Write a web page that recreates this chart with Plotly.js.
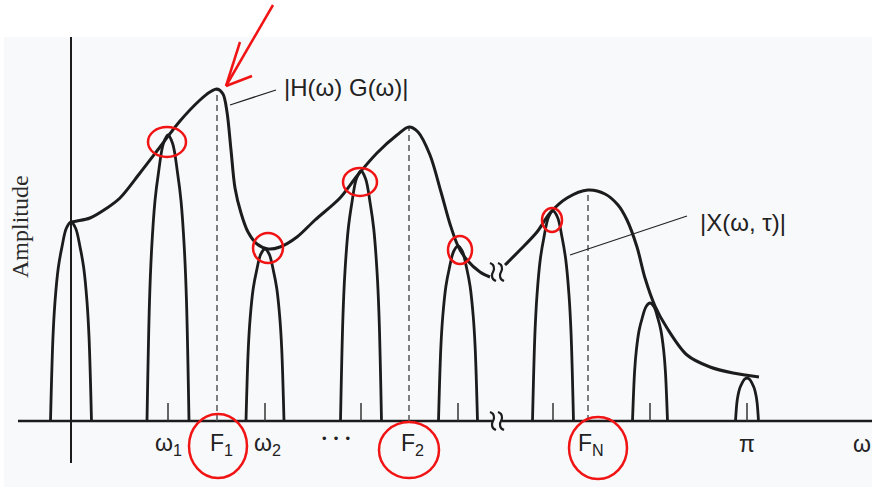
<!DOCTYPE html>
<html><head><meta charset="utf-8">
<script src="https://cdn.plot.ly/plotly-3.0.1.min.js"></script>
<style>html,body{margin:0;padding:0;background:#fff}#chart{width:872px;height:487px}</style>
</head><body><div id="chart"></div>
<script>
// ---- data (x: frequency position, y: amplitude) ----
const envelope1X = [0, 6, 19, 36, 49, 69, 89, 109, 129, 139, 146, 152, 156, 160, 164, 170, 177, 186, 197, 209, 226, 244, 269, 286, 306, 326, 338, 347, 359, 370, 379, 387, 396, 409, 419];
const envelope1Y = [199, 200, 203, 213, 223, 248, 274, 300, 321, 329, 332, 327, 309, 271, 233, 208, 189, 177, 172, 174, 184, 201, 223, 245, 268, 286, 294, 289, 266, 229, 197, 175, 161, 149, 144];
const envelope2X = [434, 449, 466, 479, 496, 517, 534, 547, 556, 566, 574, 584, 596, 616, 639, 662, 688];
const envelope2Y = [156, 171, 189, 208, 223, 231, 227, 216, 201, 174, 143, 115, 93, 66, 54, 48, 44];

const lobeCenters    = [0, 97, 194, 290, 387, 482, 579, 676];
const lobePeaks      = [199, 286, 172, 250, 175, 210, 118, 43];
const lobeHalfWidths = [20.5, 21, 19, 20.5, 19.5, 20.5, 17.5, 11.5];
// lobe outline (fraction of half width, fraction of peak)
const lobeProfileX = [-1, -0.88, -0.78, -0.62, -0.45, -0.22, 0, 0.22, 0.45, 0.62, 0.78, 0.88, 1];
const lobeProfileY = [0, 0.42, 0.6, 0.77, 0.87, 0.97, 1, 0.97, 0.87, 0.77, 0.6, 0.42, 0];

const formantX     = [146, 338, 517];
const formantPeaks = [332, 294, 231];

const tickLabels  = ["ω<sub>1</sub>", "F<sub>1</sub>", "ω<sub>2</sub>", "•  •  •", "F<sub>2</sub>", "F<sub>N</sub>", "π", "ω"];
const tickLabelX  = [97, 150, 196, 265, 341, 520, 676, 791];

const breakX = [422, 430];
const envelopeBreakY = 149;

// ---- build ----
const ink = '#1c1c1c';
const traces = [];
// axes lines
traces.push({x: [0, 0], y: [-42, 384], mode: 'lines', line: {color: ink, width: 2}, hoverinfo: 'skip'});
traces.push({x: [-53, breakX[0] - 1, null, breakX[1] + 1, 801], y: [0, 0, null, 0, 0], mode: 'lines', line: {color: ink, width: 2.5}, hoverinfo: 'skip'});
// formant dashed lines
formantX.forEach((fx, i) => {
  traces.push({x: [fx, fx], y: [0, formantPeaks[i]], mode: 'lines', line: {color: '#555', width: 1.5, dash: '6px,4px'}, hoverinfo: 'skip'});
});
// harmonic ticks
const tx = [], ty = [];
lobeCenters.slice(1).forEach(c => { tx.push(c, c, null); ty.push(0, 18, null); });
traces.push({x: tx, y: ty, mode: 'lines', line: {color: '#333', width: 1.5}, hoverinfo: 'skip'});
// lobes
lobeCenters.forEach((c, i) => {
  traces.push({
    x: lobeProfileX.map(p => c + p * lobeHalfWidths[i]),
    y: lobeProfileY.map(p => p * lobePeaks[i]),
    mode: 'lines', line: {color: ink, width: 2.8, shape: 'spline', smoothing: 1}, hoverinfo: 'skip'
  });
});
// envelope
traces.push({x: envelope1X, y: envelope1Y, mode: 'lines', line: {color: ink, width: 3, shape: 'spline', smoothing: 0.9}, hoverinfo: 'skip'});
traces.push({x: envelope2X, y: envelope2Y, mode: 'lines', line: {color: ink, width: 3, shape: 'spline', smoothing: 0.9}, hoverinfo: 'skip'});
// break squiggles
const sqX = [-3, 0, 1, -1, 0, 3], sqY = [9, 7, 3, -3, -7, -9];
[0, envelopeBreakY].forEach(by => {
  breakX.forEach(bx => {
    traces.push({x: sqX.map(d => bx + d), y: sqY.map(d => by + d), mode: 'lines', line: {color: ink, width: 2.2, shape: 'spline'}, hoverinfo: 'skip'});
  });
});

const lab = {family: 'Liberation Sans, Arial, sans-serif', size: 23, color: '#222'};
const annotations = tickLabels.map((t, i) => ({
  x: tickLabelX[i], y: t.startsWith('•') ? -17 : -23, xref: 'x', yref: 'y', text: t, showarrow: false,
  xanchor: 'center', yanchor: 'middle', font: t.startsWith('•') ? Object.assign({}, lab, {size: 13}) : lab
}));
annotations.push({x: 211, y: 334, text: '|H(ω) G(ω)|', showarrow: false, xanchor: 'left', yanchor: 'middle',
  font: {family: 'Liberation Sans, Arial, sans-serif', size: 24, color: '#222'}});
annotations.push({x: 627, y: 199, text: '|X(ω, τ)|', showarrow: false, xanchor: 'left', yanchor: 'middle',
  font: {family: 'Liberation Sans, Arial, sans-serif', size: 24, color: '#222'}});
annotations.push({x: -51, y: 194, text: 'Amplitude', showarrow: false, textangle: -90, xanchor: 'center', yanchor: 'middle',
  font: {family: 'Liberation Serif, Times New Roman, serif', size: 24, color: '#2a2a2a'}});

const red = '#f01414';
const shapes = [
  {type: 'rect', xref: 'paper', yref: 'paper', x0: 4 / 872, x1: 1, y0: 0, y1: 1 - 37 / 487, fillcolor: '#f8f9fb', line: {width: 0}, layer: 'below'},
  // leader lines
  {type: 'line', x0: 159, y0: 316, x1: 205, y1: 331, line: {color: '#222', width: 1.3}},
  {type: 'line', x0: 499, y0: 166, x1: 616, y1: 205, line: {color: '#222', width: 1.3}},
];
// red hand annotations
const redCircles = [
  [96, 279, 19, 15], [197, 173, 15, 15], [289, 239, 17, 14], [389, 171, 12, 14], [481, 201, 10, 12],
  [147, -25, 29, 32], [338, -29, 30, 28], [527, -27, 29, 31]
];
redCircles.forEach(([cx, cy, rx, ry]) => shapes.push({type: 'circle', x0: cx - rx, x1: cx + rx, y0: cy - ry, y1: cy + ry, line: {color: red, width: 2.5}}));
[[202, 416, 155, 335], [169, 379, 155, 335], [155, 335, 181, 345]].forEach(([a, b, c, d]) =>
  shapes.push({type: 'line', x0: a, y0: b, x1: c, y1: d, line: {color: red, width: 2.5}}));

const layout = {
  width: 872, height: 487, margin: {l: 0, r: 0, t: 0, b: 0},
  paper_bgcolor: '#ffffff', plot_bgcolor: 'rgba(0,0,0,0)', showlegend: false,
  xaxis: {range: [-71, 801], visible: false, fixedrange: true},
  yaxis: {range: [-66, 421], visible: false, fixedrange: true},
  annotations, shapes
};
Plotly.newPlot('chart', traces, layout, {staticPlot: true, displayModeBar: false});
</script></body></html>
